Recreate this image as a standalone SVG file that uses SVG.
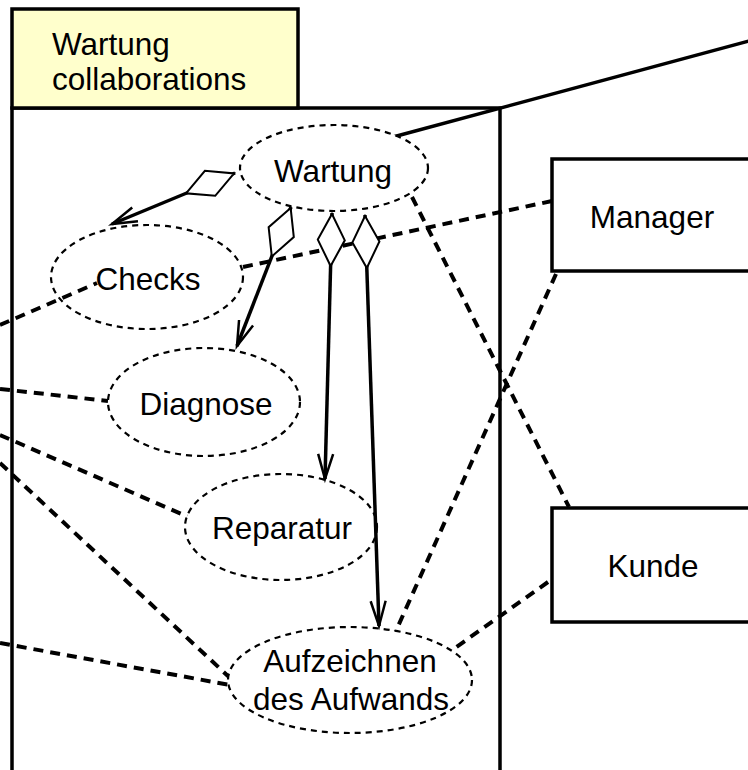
<svg xmlns="http://www.w3.org/2000/svg" width="748" height="770" viewBox="0 0 748 770">
<style>
text { font-family: "Liberation Sans", Arial, sans-serif; font-size: 31.5px; fill: #000; }
.c { text-anchor: middle; }
.uc { fill: #fff; stroke: #000; stroke-width: 2.2; stroke-dasharray: 6 5; }
.actor { fill: #fff; stroke: #000; stroke-width: 3.5; }
.frame { fill: none; stroke: #000; stroke-width: 3.5; }
.tab { fill: #ffffcc; stroke: #000; stroke-width: 3.5; }
.assoc { fill: none; stroke: #000; stroke-width: 4; stroke-dasharray: 10 7; }
.solid { fill: none; stroke: #000; stroke-width: 3.5; }
.comp { fill: none; stroke: #000; stroke-width: 3.5; marker-start: url(#diamond); marker-end: url(#vhead); }
</style>
<defs>
<marker id="diamond" markerUnits="userSpaceOnUse" viewBox="0 -14 54 28" refX="0" refY="0" markerWidth="54" markerHeight="28" orient="auto" overflow="visible">
<path d="M1,0 L27,-13.5 L53,0 L27,13.5 Z" fill="#fff" stroke="#000" stroke-width="2"/>
</marker>
<marker id="vhead" markerUnits="userSpaceOnUse" viewBox="-26 -9 28 18" refX="0" refY="0" markerWidth="28" markerHeight="18" orient="auto" overflow="visible">
<path d="M-25,-7.5 L0,0 L-25,7.5" fill="none" stroke="#000" stroke-width="2.5"/>
</marker>
</defs>

<g id="frame">
<path class="frame" d="M12,775 V108 H500 V775"/>
<rect class="tab" x="12" y="9" width="286" height="99"/>
<text x="52" y="55">Wartung</text>
<text x="52" y="90">collaborations</text>
</g>

<g id="connectors">
<line class="solid" x1="393" y1="137" x2="760" y2="38"/>
<line class="assoc" x1="552" y1="201" x2="243" y2="267"/>
<line class="assoc" x1="0" y1="325" x2="97" y2="283"/>
<line class="assoc" x1="412" y1="197" x2="569" y2="507"/>
<line class="assoc" x1="556" y1="274" x2="395" y2="633"/>
<line class="assoc" x1="548" y1="582" x2="455" y2="648"/>
<line class="assoc" x1="0" y1="389" x2="108" y2="401"/>
<line class="assoc" x1="0" y1="435" x2="193" y2="519"/>
<line class="assoc" x1="0" y1="463" x2="229" y2="677"/>
<line class="assoc" x1="0" y1="643" x2="230" y2="685"/>
</g>

<g id="wartung">
<ellipse class="uc" cx="334" cy="168" rx="94" ry="43"/>
<text class="c" x="333" y="182">Wartung</text>
</g>
<g id="checks">
<ellipse class="uc" cx="147" cy="277" rx="96" ry="52" fill-opacity="0"/>
<text class="c" x="148" y="290">Checks</text>
</g>
<g id="diagnose">
<ellipse class="uc" cx="204" cy="402" rx="96" ry="54"/>
<text class="c" x="206" y="415">Diagnose</text>
</g>
<g id="reparatur">
<ellipse class="uc" cx="281" cy="527" rx="96" ry="53"/>
<text class="c" x="282" y="539">Reparatur</text>
</g>
<g id="aufzeichnen">
<ellipse class="uc" cx="350" cy="680" rx="122" ry="53"/>
<text class="c" x="350" y="672">Aufzeichnen</text>
<text class="c" x="351" y="710">des Aufwands</text>
</g>

<g id="compositions">
<line class="comp" x1="235" y1="173" x2="112" y2="224"/>
<line class="comp" x1="291" y1="207" x2="237" y2="346"/>
<line class="comp" x1="332" y1="213" x2="325" y2="479"/>
<line class="comp" x1="365" y1="215" x2="379" y2="626"/>
</g>

<g id="manager">
<rect class="actor" x="552" y="159" width="200" height="112"/>
<text class="c" x="652" y="228">Manager</text>
</g>
<g id="kunde">
<rect class="actor" x="552" y="508" width="200" height="114"/>
<text class="c" x="653" y="577">Kunde</text>
</g>
</svg>
